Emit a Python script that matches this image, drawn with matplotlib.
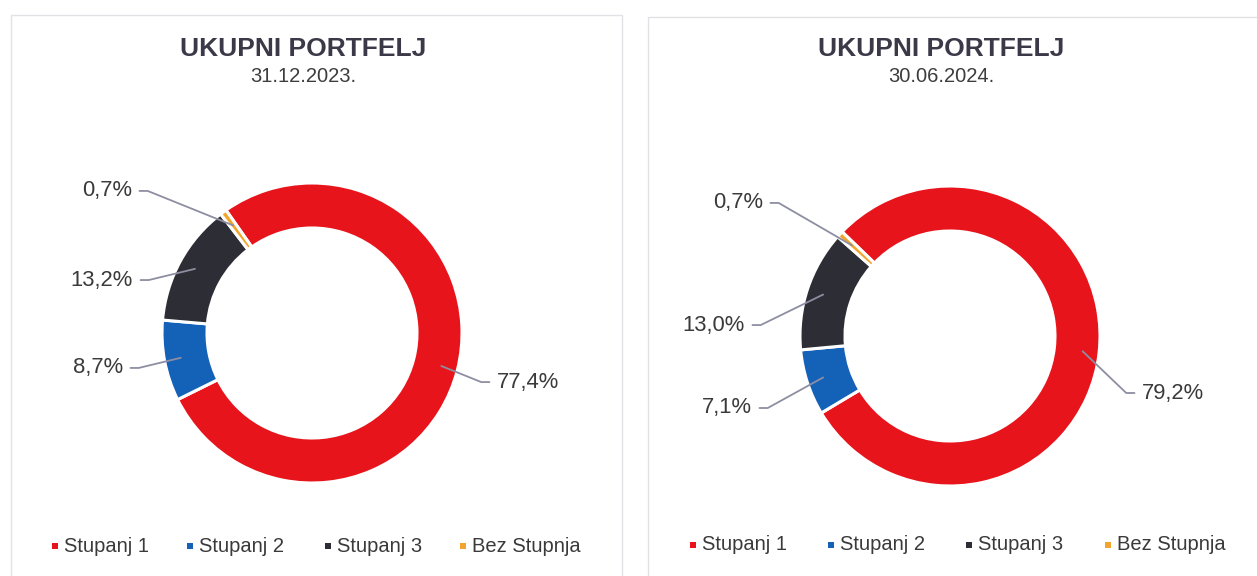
import matplotlib
matplotlib.use("Agg")
import matplotlib.pyplot as plt
from matplotlib.patches import Rectangle
import numpy as np

# ---- data ----
categories = ["Stupanj 1", "Stupanj 2", "Stupanj 3", "Bez Stupnja"]
titles = ["UKUPNI PORTFELJ", "UKUPNI PORTFELJ"]
dates = ["31.12.2023.", "30.06.2024."]
values_2023 = [77.4, 8.7, 13.2, 0.7]
values_2024 = [79.2, 7.1, 13.0, 0.7]
labels_2023 = ["77,4%", "8,7%", "13,2%", "0,7%"]
labels_2024 = ["79,2%", "7,1%", "13,0%", "0,7%"]

# ---- style / layout ----
colors = ["#e8141c", "#1461b8", "#2d2d35", "#f2a52e"]
W, H = 1257, 576
plt.rcParams["font.family"] = ["Liberation Sans", "DejaVu Sans"]
fig = plt.figure(figsize=(W / 100, H / 100), dpi=100)
fig.patch.set_facecolor("white")

# panel frames (pixel coords, y from top)
for (x0, x1, y0) in [(11, 622, 15), (648, 1275, 17)]:
    fig.add_artist(Rectangle((x0 / W, 0 - 0.1), (x1 - x0) / W, (H - y0) / H + 0.1,
                             transform=fig.transFigure, fill=False,
                             edgecolor="#e2e2e6", linewidth=1.0))

R_PX = 150.0
charts = [
    dict(values=values_2023, labels=labels_2023, title=titles[0], date=dates[0],
         center=(312, 333), start=125, title_x=303,
         label_pos=[(1.233, -0.327, "left"), (-1.26, -0.233, "right"),
                    (-1.193, 0.353, "right"), (-1.2, 0.947, "right")],
         legend_x=[55, 190, 328, 463], legend_y=546),
    dict(values=values_2024, labels=labels_2024, title=titles[1], date=dates[1],
         center=(950, 336), start=136, title_x=941,
         label_pos=[(1.28, -0.38, "left"), (-1.32, -0.48, "right"),
                    (-1.367, 0.073, "right"), (-1.247, 0.887, "right")],
         legend_x=[693, 831, 969, 1108], legend_y=545),
]

line_col = "#8e8ea2"
text_col = "#3a3a3a"

for ch in charts:
    cx, cy = ch["center"]
    hw, hh = 300, 200
    ax = fig.add_axes([(cx - hw) / W, (H - cy - hh) / H, 2 * hw / W, 2 * hh / H])
    wedges, _ = ax.pie(ch["values"], colors=colors, startangle=ch["start"],
                       counterclock=False, radius=1.0,
                       wedgeprops=dict(width=0.3, edgecolor="white", linewidth=2.2))
    ax.set_xlim(-hw / R_PX, hw / R_PX)
    ax.set_ylim(-hh / R_PX, hh / R_PX)
    ax.set_aspect("equal")
    ax.axis("off")

    for w, lab, (tx, ty, ha) in zip(wedges, ch["labels"], ch["label_pos"]):
        mid = np.deg2rad((w.theta1 + w.theta2) / 2)
        r = 0.89
        px, py = r * np.cos(mid), r * np.sin(mid)
        sgn = 1 if ha == "left" else -1
        lx = tx - sgn * 0.05
        ex = lx - sgn * 0.055
        ax.plot([px, ex, lx], [py, ty, ty], color=line_col, lw=1.3,
                solid_capstyle="round", zorder=1)
        ax.text(tx, ty, lab, ha=ha, va="center", fontsize=15.8, color=text_col)

    fig.text(ch["title_x"] / W, 1 - 49 / H, ch["title"], ha="center", va="center",
             fontsize=19, fontweight="bold", color="#3b3848")
    fig.text(ch["title_x"] / W, 1 - 76 / H, ch["date"], ha="center", va="center",
             fontsize=14.5, color="#3d3d3d")

    ly = ch["legend_y"]
    for lx, cat, col in zip(ch["legend_x"], categories, colors):
        s = 6
        fig.add_artist(Rectangle(((lx - s / 2) / W, 1 - (ly + s / 2) / H), s / W, s / H,
                                 transform=fig.transFigure, facecolor=col,
                                 edgecolor="none"))
        fig.text((lx + 9) / W, 1 - ly / H, cat, ha="left", va="center",
                 fontsize=14.5, color=text_col)

fig.savefig("out.png", dpi=100, facecolor="white")
